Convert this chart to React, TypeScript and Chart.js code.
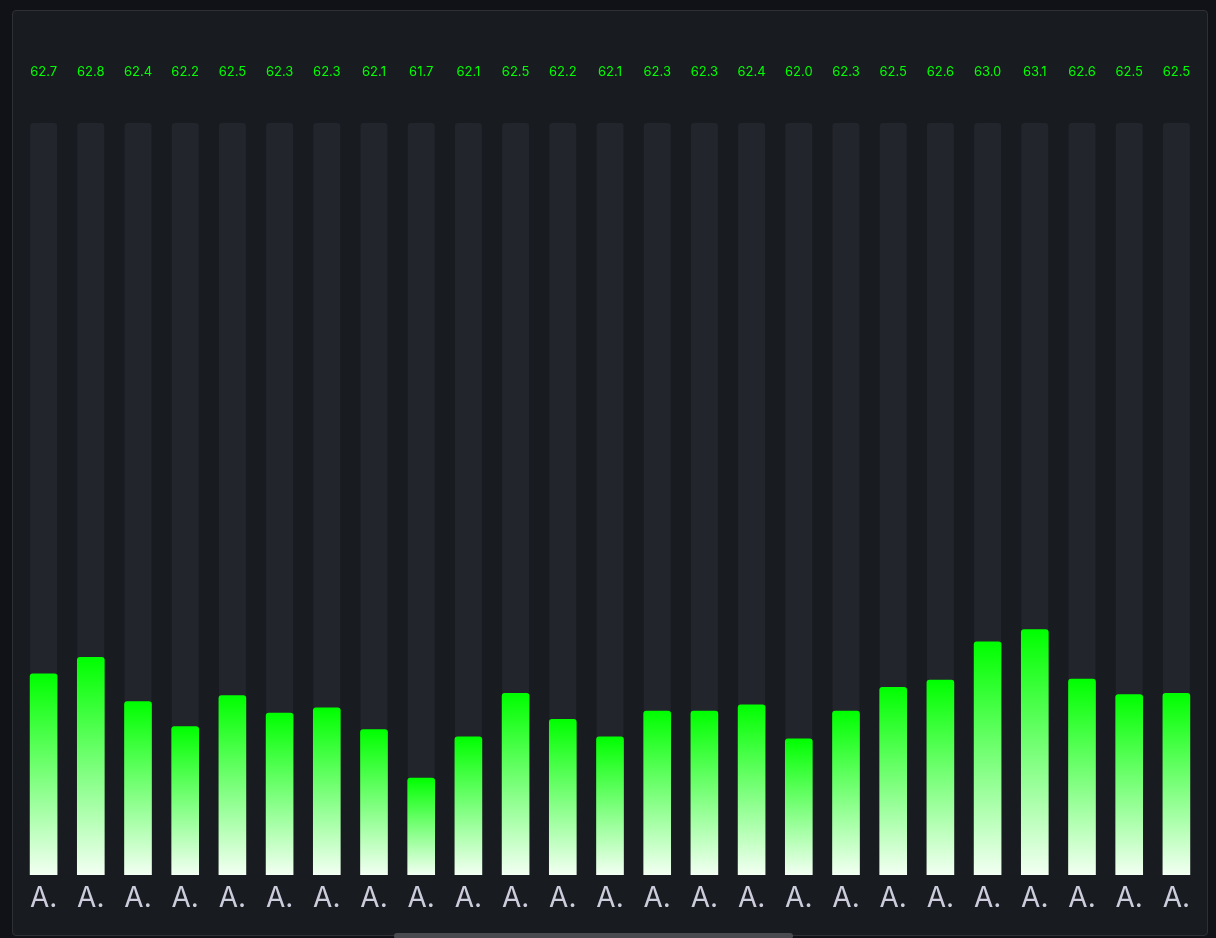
import React, { useEffect, useRef } from "react";
import { Chart, registerables } from "chart.js";

Chart.register(...registerables);

const categories = [
  "A.", "A.", "A.", "A.", "A.", "A.", "A.", "A.", "A.", "A.", "A.", "A.", "A.",
  "A.", "A.", "A.", "A.", "A.", "A.", "A.", "A.", "A.", "A.", "A.", "A.",
];

const values = [
  62.67, 62.83, 62.4, 62.16, 62.46, 62.29, 62.34, 62.13, 61.66, 62.06, 62.48, 62.23, 62.06,
  62.31, 62.31, 62.37, 62.04, 62.31, 62.54, 62.61, 62.98, 63.1, 62.62, 62.47, 62.48,
];

const scaleMin = 60.72;
const scaleMax = 68.01;

const GREEN = "#00ff00";
const TRACK = "#22252b";

const trackPlugin = {
  id: "trackPlugin",
  beforeDatasetsDraw(chart: any) {
    const meta = chart.getDatasetMeta(0);
    const y = chart.scales.y;
    const ctx = chart.ctx;
    const top = y.getPixelForValue(scaleMax);
    const bottom = y.getPixelForValue(scaleMin);
    ctx.save();
    ctx.fillStyle = TRACK;
    meta.data.forEach((el: any) => {
      const w = el.width;
      ctx.beginPath();
      ctx.roundRect(el.x - w / 2, top, w, bottom - top, 3);
      ctx.fill();
    });
    ctx.restore();
  },
};

const valueLabelPlugin = {
  id: "valueLabelPlugin",
  afterDatasetsDraw(chart: any) {
    const meta = chart.getDatasetMeta(0);
    const ctx = chart.ctx;
    ctx.save();
    ctx.fillStyle = GREEN;
    ctx.font = "13px Inter";
    ctx.textAlign = "center";
    ctx.textBaseline = "alphabetic";
    meta.data.forEach((el: any, i: number) => {
      ctx.fillText(values[i].toFixed(1), el.x, 76);
    });
    ctx.restore();
  },
};

export default function App() {
  const canvasRef = useRef<HTMLCanvasElement | null>(null);

  useEffect(() => {
    if (!canvasRef.current) return;
    const chart = new Chart(canvasRef.current, {
      type: "bar",
      data: {
        labels: categories,
        datasets: [
          {
            data: values,
            barThickness: 27,
            borderRadius: 3,
            borderSkipped: false,
            backgroundColor: (c: any) => {
              const ch = c.chart;
              const ys = ch.scales && ch.scales.y;
              if (!ys || c.type !== "data" || !c.parsed) return GREEN;
              const top = ys.getPixelForValue(c.parsed.y);
              const bot = ys.getPixelForValue(scaleMin);
              if (!isFinite(top) || !isFinite(bot) || bot <= top) return GREEN;
              const g = ch.ctx.createLinearGradient(0, top, 0, bot);
              g.addColorStop(0, "#00ff00");
              g.addColorStop(1, "#f3fff3");
              return g;
            },
          },
        ],
      },
      options: {
        animation: false,
        responsive: false,
        maintainAspectRatio: false,
        layout: { padding: { left: 20, right: 16, top: 123, bottom: 15.4 } },
        plugins: {
          legend: { display: false },
          tooltip: { enabled: false },
        },
        scales: {
          x: {
            grid: { display: false, drawTicks: false },
            border: { display: false },
            ticks: {
              color: "#ccccdc",
              font: { family: "Inter", size: 28, lineHeight: 1.2 },
              padding: 7,
              maxRotation: 0,
              autoSkip: false,
            },
          },
          y: { display: false, min: scaleMin, max: scaleMax },
        },
      },
      plugins: [trackPlugin, valueLabelPlugin],
    });
    return () => chart.destroy();
  }, []);

  return (
    <div
      style={{
        position: "absolute",
        left: 0,
        top: 0,
        width: 1216,
        height: 938,
        background: "#111217",
        overflow: "hidden",
      }}
    >
      <div
        style={{
          position: "absolute",
          left: 12,
          top: 10,
          width: 1194,
          height: 924,
          background: "#181b1f",
          border: "1px solid #2e3036",
          borderRadius: 4,
        }}
      />
      <canvas
        ref={canvasRef}
        width={1216}
        height={938}
        style={{ position: "absolute", left: 0, top: 0 }}
      />
      <div
        style={{
          position: "absolute",
          left: 394,
          top: 933,
          width: 399,
          height: 6,
          background: "#4a4b51",
          borderRadius: 3,
        }}
      />
    </div>
  );
}
